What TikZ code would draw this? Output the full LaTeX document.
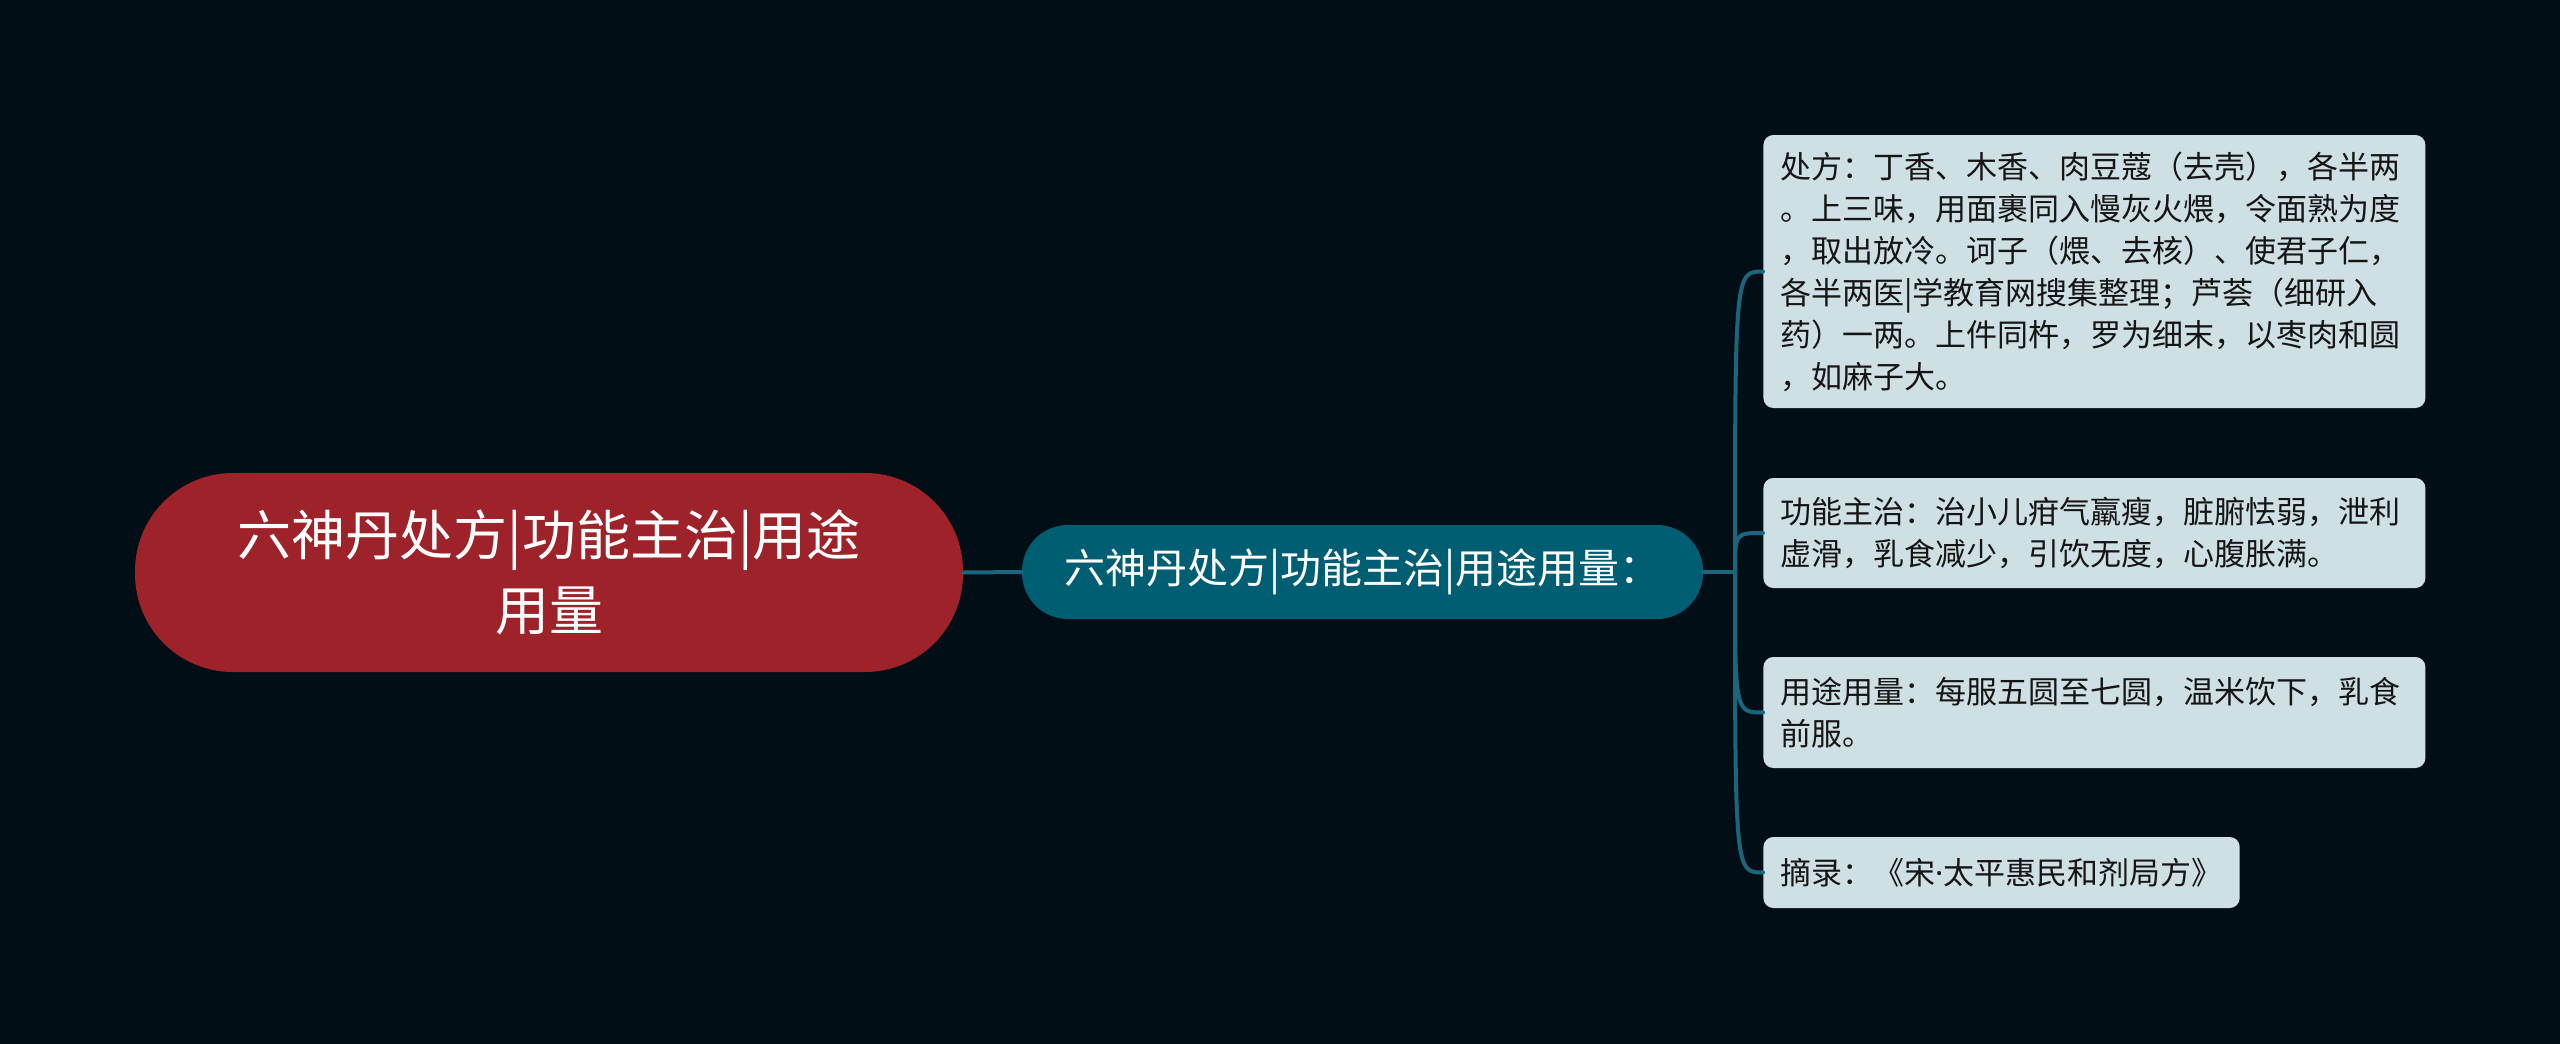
\documentclass[tikz,border=0pt]{standalone}
\usepackage{fontspec}
\usepackage{xcolor}
\usepackage{tikz}
\usetikzlibrary{calc}
\newfontfamily\cjk{Noto Sans CJK SC}
\newfontfamily\latin{Noto Sans}
\definecolor{bg}{HTML}{020E16}
\definecolor{rootred}{HTML}{9D2229}
\definecolor{midteal}{HTML}{005E72}
\definecolor{leafbg}{HTML}{CFE0E5}
\definecolor{leaftext}{HTML}{151515}
\definecolor{linkteal}{HTML}{1B667A}
\tikzset{
  rootbox/.style={fill=rootred, text=white, rounded corners=49pt, minimum width=414pt, minimum height=99.5pt, inner sep=0pt, align=center, font=\cjk\fontsize{27}{37.5}\selectfont},
  midbox/.style={fill=midteal, text=white, rounded corners=23pt, minimum width=340.5pt, minimum height=47pt, inner sep=0pt, font=\cjk\fontsize{20.5}{24}\selectfont},
  leafbox/.style={fill=leafbg, text=leaftext, rounded corners=5pt, anchor=west, inner xsep=8.5pt, inner ysep=0pt, align=left, font=\cjk\fontsize{15.5}{21}\selectfont},
  link/.style={draw=linkteal, line width=2pt, line cap=round},
}

\begin{document}
\begin{tikzpicture}[x=0.5pt, y=-0.5pt]
  % canvas
  \fill[bg] (0,0) rectangle (2560,1044);
  \useasboundingbox (0,0) rectangle (2560,1044);

  % centre and first level
  \node[rootbox] (root) at (549,572.5) {六神丹处方|功能主治|用途\\用量};
  \node[midbox] (mid) at (1362.5,572) {六神丹处方|功能主治|用途用量：};

  % leaves
  \def\xL{1763}
  \node[leafbox, text width=314pt, minimum height=136.5pt] (recipe) at (\xL,271.5)
    {处方：丁香、木香、肉豆蔻（去壳），各半两\\
     。上三味，用面裹同入慢灰火煨，令面熟为度\\
     ，取出放冷。诃子（煨、去核）、使君子仁，\\
     各半两医|学教育网搜集整理；芦荟（细研入\\
     药）一两。上件同杵，罗为细末，以枣肉和圆\\
     ，如麻子大。};
  \node[leafbox, text width=314pt, minimum height=55pt] (effect) at (\xL,533)
    {功能主治：治小儿疳气羸瘦，脏腑怯弱，泄利\\
     虚滑，乳食减少，引饮无度，心腹胀满。};
  \node[leafbox, text width=314pt, minimum height=55.5pt] (usage) at (\xL,712.5)
    {用途用量：每服五圆至七圆，温米饮下，乳食\\
     前服。};
  \node[leafbox, minimum height=35.5pt] (source) at (\xL,872.5)
    {摘录：《宋{\latin ·}太平惠民和剂局方》};

  % connectors
  \coordinate (spine) at (1735,572);
  \draw[link] (root.east) -- (mid.west);
  \draw[link] (mid.east) -- (spine);
  \foreach \leaf in {recipe,effect,usage,source}{
    \draw[link] (spine) .. controls (spine |- \leaf.west) .. (\leaf.west);
  }
\end{tikzpicture}
\end{document}
